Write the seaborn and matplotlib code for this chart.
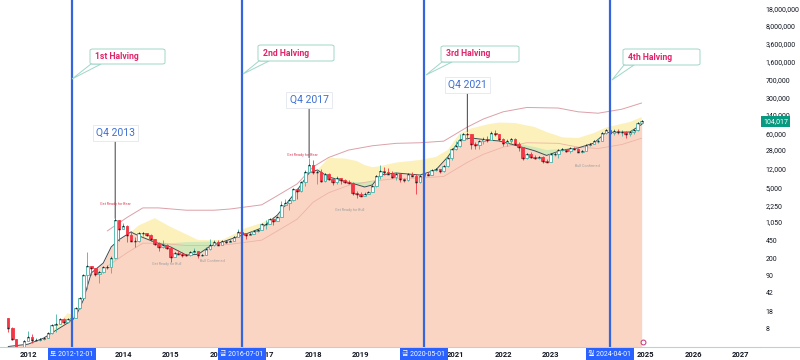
import numpy as np
import pandas as pd
import seaborn as sns
import matplotlib.pyplot as plt
import matplotlib.transforms as mtransforms
from matplotlib.patches import FancyBboxPatch, Polygon
from matplotlib.ticker import NullLocator

# ---- monthly candles (Aug 2011 .. Dec 2024) ----
first_open = 13.4
closes = [
    8.2, 5.1, 3.25, 3.0, 4.7,
    5.5, 4.9, 4.9, 5.0, 5.2, 6.7, 9.4, 10.2, 12.4, 11.2, 12.6, 13.5,
    20.4, 33.4, 93, 139, 129, 97, 106, 135, 133, 204, 1130, 754,
    890, 570, 450, 447, 628, 640, 590, 480, 388, 338, 375, 320,
    217, 254, 244, 236, 230, 263, 284, 230, 236, 314, 377, 430,
    368, 437, 416, 448, 531, 673, 624, 573, 608, 700, 742, 963,
    970, 1190, 1080, 1350, 2300, 2480, 2875, 4700, 4340, 6470, 10230, 13860,
    10220, 10400, 6940, 9240, 7490, 6400, 7730, 7040, 6630, 6370, 4030, 3740,
    3460, 3850, 4100, 5350, 8570, 10820, 10080, 9600, 8290, 9200, 7560, 7190,
    9350, 8600, 6430, 8630, 9450, 9140, 11350, 11650, 10780, 13800, 19700, 29000,
    33100, 45200, 58800, 57700, 37300, 35000, 41500, 47100, 43800, 61300, 57000, 46300,
    38500, 43200, 45500, 37700, 31800, 19900, 23300, 20100, 19400, 20500, 17200, 16550,
    23100, 23150, 28500, 29250, 27200, 30500, 29200, 25950, 26950, 34650, 37700, 42300,
    42600, 61200, 71300, 60700, 67500, 62700, 64600, 58900, 63300, 70200, 96400, 104017,
]
highs = [
    13.5, 8.6, 5.1, 3.5, 4.8,
    7.2, 6.3, 5.4, 5.2, 5.2, 6.8, 9.6, 16.0, 12.8, 13.0, 12.6, 13.9,
    20.8, 33.4, 95, 266, 139, 129, 112, 138, 145, 220, 1240, 1150,
    1000, 900, 710, 540, 630, 680, 650, 600, 490, 425, 460, 385,
    320, 265, 300, 265, 245, 270, 315, 285, 245, 330, 495, 465,
    460, 440, 440, 465, 550, 780, 700, 625, 630, 720, 760, 975,
    1150, 1200, 1300, 1350, 2760, 3000, 2950, 4750, 4990, 6470, 11500, 19800,
    17700, 11800, 11700, 9750, 9990, 7750, 8500, 7760, 7400, 7000, 6550, 4300,
    4100, 4200, 4150, 5600, 9100, 13900, 13200, 12300, 10900, 10400, 9500, 7750,
    9600, 10500, 9200, 9450, 10070, 10400, 11400, 12470, 12050, 14100, 19900, 29300,
    41900, 58300, 61700, 64800, 59500, 41300, 42400, 50500, 52900, 67000, 69000, 59000,
    47900, 45800, 48200, 47400, 39900, 31900, 24700, 25200, 22800, 21000, 21400, 18400,
    23900, 25200, 29200, 31000, 29800, 31400, 31800, 30200, 27500, 35200, 38400, 44700,
    48900, 63900, 73800, 72800, 72000, 72000, 70000, 65600, 66500, 73600, 99600, 108300,
]
lows = [
    7.0, 4.8, 2.2, 2.0, 2.8,
    4.6, 4.2, 4.6, 4.7, 4.9, 5.2, 6.5, 7.1, 9.9, 9.9, 10.3, 12.2,
    13.2, 19.8, 33, 50, 92, 89, 65, 102, 122, 105, 198, 450,
    750, 420, 440, 340, 420, 550, 565, 450, 365, 280, 320, 310,
    170, 210, 240, 215, 225, 220, 255, 200, 225, 235, 300, 350,
    365, 370, 405, 415, 440, 530, 615, 480, 570, 605, 680, 740,
    750, 940, 900, 1080, 1350, 2200, 1850, 2700, 2950, 4150, 5500, 10000,
    9200, 6000, 6500, 6500, 7050, 5750, 6070, 5880, 6150, 6200, 3650, 3150,
    3400, 3400, 3700, 4100, 5300, 7500, 9100, 9400, 7700, 7300, 6500, 6430,
    6850, 8450, 3850, 6150, 8100, 8900, 8950, 10950, 9850, 10400, 13200, 17550,
    28100, 32300, 45000, 47000, 30000, 28800, 29300, 37300, 39600, 43300, 53300, 42000,
    32900, 34300, 37200, 37600, 26700, 17600, 18800, 19600, 18200, 18200, 15500, 16300,
    16500, 21400, 19600, 26900, 25800, 24800, 28900, 25200, 24900, 26550, 34100, 37600,
    38500, 41900, 59000, 59600, 56500, 58400, 53500, 49000, 52600, 58900, 66800, 90500,
]
months = pd.date_range("2011-08-01", periods=len(closes), freq="MS")

# ---- band / moving-average lines ----
band_dates = ["2011-08", "2012-01", "2012-05", "2012-08", "2012-11", "2013-01", "2013-03",
              "2013-05", "2013-08", "2013-10", "2013-12", "2014-03", "2014-05", "2014-09",
              "2015-01", "2015-05", "2015-08", "2015-11", "2016-02", "2016-05", "2016-08",
              "2016-12", "2017-04", "2017-09", "2017-12", "2018-02", "2018-05", "2018-09",
              "2018-12", "2019-02", "2019-04", "2019-06", "2019-10", "2020-04", "2020-08",
              "2020-11", "2021-02", "2021-05", "2021-09", "2021-12", "2022-04", "2022-09",
              "2022-12", "2023-04", "2023-08", "2023-12", "2024-03", "2024-05", "2024-09",
              "2024-12"]
base_line = [3.6, 4.0, 5.3, 7.5, 10.5, 14, 30, 103, 162, 337, 470, 667, 560, 420,
             337, 233, 241, 350, 420, 507, 608, 800, 1445, 4520, 9830, 11270, 8190, 6700,
             5800, 5190, 5700, 8960, 9830, 8960, 11270, 20400, 44300, 48500, 44300, 42300,
             35000, 27000, 21900, 28000, 30800, 38600, 62000, 63000, 63700, 90000]
yellow_top = [3.6, 4.0, 5.3, 9, 16.5, 14, 30, 103, 162, 337, 470, 667, 900, 1250,
              840, 600, 463, 460, 463, 600, 800, 1004, 1445, 4520, 9830, 11270, 19500, 19000,
              17000, 14100, 12800, 13500, 15800, 17800, 20400, 28000, 60000, 75000, 90000, 98000,
              96000, 80000, 63700, 50000, 48400, 60900, 78000, 85000, 100400, 126000]
green_top = [3.6, 4.0, 5.3, 7.5, 10.5, 14, 30, 103, 162, 337, 470, 667, 560, 420,
             400, 420, 425, 430, 420, 507, 608, 800, 1445, 4520, 9830, 11270, 8190, 6700,
             6500, 6500, 6500, 8960, 9830, 8960, 11270, 20400, 44300, 48500, 44300, 42300,
             38600, 32100, 28000, 29500, 30800, 38600, 62000, 63000, 63700, 90000]

ma_dates = ["2013-09", "2014-02", "2014-06", "2014-10", "2015-05", "2015-12", "2016-04",
            "2016-12", "2017-04", "2017-09", "2018-01", "2018-05", "2018-10", "2019-04",
            "2019-10", "2020-04", "2020-10", "2021-04", "2021-08", "2022-01", "2022-07",
            "2023-03", "2023-08", "2024-01", "2024-07", "2024-12"]
upper_line = [700, 1300, 2000, 2000, 1800, 1800, 1900, 2300, 3500, 6000, 13000, 20000,
              28000, 34000, 38000, 39000, 42000, 80000, 115000, 160000, 195000, 190000,
              160000, 150000, 180000, 239000]
lower_line = [140, 260, 400, 400, 360, 360, 380, 460, 700, 1200, 2600, 4000, 5600, 6800,
              7600, 7800, 8400, 16000, 23000, 32000, 39000, 38000, 32000, 30000, 36000, 48000]

halvings = ["2012-12-01", "2016-07-01", "2020-05-01", "2024-04-01"]
halving_days = ["토", "금", "금", "월"]
halving_names = ["1st Halving", "2nd Halving", "3rd Halving", "4th Halving"]
peak_months = ["2013-11-01", "2017-12-01", "2021-04-01"]
peak_names = ["Q4 2013", "Q4 2017", "Q4 2021"]
price_ticks = [8, 18, 42, 90, 200, 450, 1050, 2250, 5000, 12000, 28000, 60000, 140000,
               300000, 700000, 1600000, 3600000, 8000000, 18000000]
year_ticks = list(range(2012, 2028))
hidden_years = [2013, 2020, 2024]  # sit fully under the blue date boxes

sns.set_theme(style="white")
plt.rcParams["font.family"] = ["Roboto", "DejaVu Sans", "Noto Sans CJK KR"]

fig = plt.figure(figsize=(8, 3.6), dpi=100)
ax = fig.add_axes([0, 13 / 360, 760 / 800, 347 / 360])
W, H = 760.0, 347.0


def px(x, y):
    # pixel position inside the axes -> axes fraction
    return x / W, 1 - y / H


bd = pd.to_datetime(band_dates)
base = np.array(base_line, dtype=float)
ytop = np.array(yellow_top, dtype=float)
gtop = np.array(green_top, dtype=float)

ax.fill_between(bd, 1, base, color="#fad5c3", lw=0, zorder=1)
ax.fill_between(bd, base, ytop, where=ytop > base, interpolate=True,
                color="#fcf1bb", lw=0, zorder=1)
ax.fill_between(bd, base, gtop, where=gtop > base, interpolate=True,
                color="#d2e8b8", lw=0, zorder=1.1)

md = pd.to_datetime(ma_dates)
sns.lineplot(x=md, y=upper_line, ax=ax, color="#dca0a8", linewidth=0.7, zorder=2)
sns.lineplot(x=md, y=lower_line, ax=ax, color="#efb3a6", linewidth=0.6, zorder=2)
sns.lineplot(x=bd, y=base, ax=ax, color="#3f4a52", linewidth=0.7, zorder=2)

# candles
c = np.array(closes, dtype=float)
o = np.array([first_open] + closes[:-1], dtype=float)
h = np.array(highs, dtype=float)
l = np.array(lows, dtype=float)
up = c >= o
dn = ~up
green, red = "#45b3a8", "#f23645"
ax.vlines(months[up], l[up], h[up], color=green, lw=0.6, zorder=3)
ax.vlines(months[dn], l[dn], h[dn], color=red, lw=0.6, zorder=3)
ax.bar(months[up], (c - o)[up], bottom=o[up], width=20, facecolor="white",
       edgecolor=green, linewidth=0.6, zorder=3.5)
ax.bar(months[dn], (o - c)[dn], bottom=c[dn], width=20, facecolor=red,
       edgecolor=red, linewidth=0.6, zorder=3.5)
ax.scatter(months, c, marker="*", s=5, color="#222222", linewidths=0, zorder=3.8)

ax.set_yscale("log")
ax.set_ylim(3.52, 2.62e7)
ax.set_xlim(pd.Timestamp("2011-05-30"), pd.Timestamp("2027-05-30"))

# halving lines, callouts and date labels
blend = mtransforms.blended_transform_factory(ax.transData, ax.transAxes)
boxes = [(90, 49, 75, 15, 72, 79), (258, 45, 76, 16, 243, 74),
         (441, 46, 78, 16, 426, 75), (623, 49, 77, 16, 612, 80)]
for date, day, name, (bx, by, bw, bh, tx, ty) in zip(halvings, halving_days, halving_names, boxes):
    d = pd.Timestamp(date)
    ax.axvline(d, color="#3565dc", lw=1.6, zorder=4.5)
    ax.text(d, -0.021, f"{day} {date}", transform=blend, ha="center", va="center",
            color="white", fontsize=5, zorder=10, clip_on=False,
            bbox=dict(boxstyle="square,pad=0.35", fc="#2962ff", ec="none"))
    tail = Polygon([px(bx + 1, by + bh), px(bx + 11, by + bh), px(tx, ty)],
                   closed=True, transform=ax.transAxes, fc="white", ec="#9fd6c9",
                   lw=0.7, zorder=6)
    ax.add_patch(tail)
    x0, y0 = px(bx, by + bh)
    box = FancyBboxPatch((x0, y0), bw / W, bh / H, boxstyle="round,pad=0,rounding_size=0.004",
                         transform=ax.transAxes, fc="white", ec="#9fd6c9", lw=0.7, zorder=6.5)
    ax.add_patch(box)
    ax.text(*px(bx + 5, by + bh / 2), name, transform=ax.transAxes, ha="left", va="center",
            color="#e0246a", fontsize=6.2, fontweight="bold", zorder=7)

# cycle tops
top_y = [0.617, 0.712, 0.755]
for m, name, ty in zip(peak_months, peak_names, top_y):
    d = pd.Timestamp(m)
    ax.annotate(name, xy=(d, h[months.get_loc(d)]), xytext=(d, ty),
                textcoords=("data", "axes fraction"), ha="center", va="center",
                color="#3d6fd6", fontsize=7.5, zorder=7,
                bbox=dict(boxstyle="square,pad=0.3", fc="white", ec="#e3e8ef", lw=0.6),
                arrowprops=dict(arrowstyle="-", color="#555555", lw=0.8,
                                shrinkA=0, shrinkB=0))

# small signal notes
notes = [("Get Ready for Bear", 115, 204, "#e0405a"), ("Get Ready for Bear", 302, 155, "#e0405a"),
         ("Get Ready for Bull", 167, 264, "#a0a0a0"), ("Get Ready for Bull", 350, 210, "#a0a0a0"),
         ("Bull Confirmed", 212, 261, "#a0a0a0"), ("Bull Confirmed", 587, 166, "#a0a0a0")]
for txt, nx, ny, col in notes:
    ax.text(*px(nx, ny), txt, transform=ax.transAxes, ha="center", va="center",
            fontsize=2.7, color=col, zorder=5)

# axes styling
ax.set_yticks(price_ticks, labels=[f"{v:,}" for v in price_ticks])
ax.yaxis.set_minor_locator(NullLocator())
ax.tick_params(axis="y", which="both", length=0, pad=4, labelsize=5,
               labelcolor="#131722", left=False, right=True,
               labelleft=False, labelright=True)
ax.set_xticks([pd.Timestamp(f"{y}-01-01") for y in year_ticks],
              labels=["" if y in hidden_years else str(y) for y in year_ticks])
ax.tick_params(axis="x", length=0, pad=3, labelsize=5.5, labelcolor="#131722")
for lab in ax.get_xticklabels():
    lab.set_fontweight("bold")
ax.grid(False)
for s in ["left", "right", "top"]:
    ax.spines[s].set_visible(False)
ax.spines["bottom"].set_color("#c8cbd2")
ax.spines["bottom"].set_linewidth(0.8)
fig.add_artist(plt.Line2D([760 / 800, 1], [13 / 360, 13 / 360], color="#c8cbd2", lw=0.8))

last = closes[-1]
price_tr = mtransforms.blended_transform_factory(ax.transAxes, ax.transData)
ax.text(1 + 3 / W, last, f"{last:,}", transform=price_tr, ha="left", va="center",
        color="white", fontsize=5, zorder=10, clip_on=False,
        bbox=dict(boxstyle="square,pad=0.3", fc="#089981", ec="none"))
ax.plot(*px(643, 342), marker="o", ms=3.5, mfc="white", mec="#c2307a", mew=0.7,
        transform=ax.transAxes, clip_on=False, zorder=10)

ax.set_xlabel("")
ax.set_ylabel("")
fig.savefig("out.png", dpi=100)
